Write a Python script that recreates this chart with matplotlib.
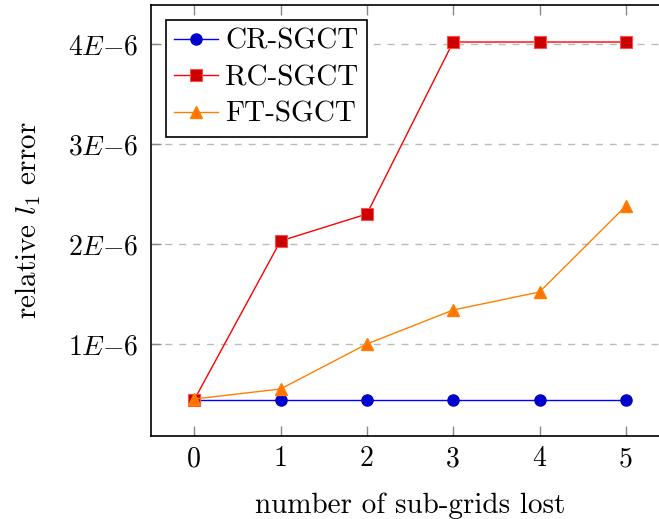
import numpy as np
import matplotlib
matplotlib.use('Agg')
import matplotlib.pyplot as plt

plt.rcParams['font.family'] = 'serif'
plt.rcParams['font.serif'] = ['cmr10']
plt.rcParams['mathtext.fontset'] = 'cm'
plt.rcParams['axes.formatter.use_mathtext'] = True

lost = [0, 1, 2, 3, 4, 5]
cr_sgct = [0.44e-6, 0.44e-6, 0.44e-6, 0.44e-6, 0.44e-6, 0.44e-6]
rc_sgct = [0.44e-6, 2.03e-6, 2.30e-6, 4.02e-6, 4.02e-6, 4.02e-6]
ft_sgct = [0.45e-6, 0.55e-6, 1.00e-6, 1.34e-6, 1.52e-6, 2.38e-6]
ytick_vals = [1e-6, 2e-6, 3e-6, 4e-6]
ytick_labels = ['$1E{-}6$', '$2E{-}6$', '$3E{-}6$', '$4E{-}6$']

fig = plt.figure(figsize=(6.59, 5.19), dpi=100)
# axes box runs past the right edge of the canvas
ax = fig.add_axes([151/659, 1-436/519, 518/659, 431/519])

ax.plot(lost, cr_sgct, color=(0, 0, 1), lw=1.0, marker='o', ms=8,
        mfc=(0, 0, 0.8), mec=(0, 0, 0.8), label='CR-SGCT', zorder=3)
ax.plot(lost, rc_sgct, color=(1, 0, 0), lw=1.0, marker='s', ms=8,
        mfc=(0.8, 0, 0), mec=(1, 0.3, 0.3), mew=0.8, label='RC-SGCT', zorder=3)
ax.plot(lost, ft_sgct, color=(1, 0.5, 0), lw=1.0, marker='^', ms=8,
        mfc=(1, 0.45, 0), mec=(1, 0.5, 0), label='FT-SGCT', zorder=3)

ax.set_xlim(-0.5, 5.5)
ax.set_ylim(0.08e-6, 4.39e-6)
ax.set_xticks(lost)
ax.set_xticklabels([str(v) for v in lost])
ax.set_yticks(ytick_vals)
ax.set_yticklabels(ytick_labels)
ax.yaxis.grid(True, linestyle=(0, (5, 5)), color='#bbbbbb', lw=1.0)
ax.set_axisbelow(True)

ax.tick_params(direction='in', length=7, color='#888888', width=1.0,
               labelsize=20, top=True, right=True)
ax.tick_params(axis='x', pad=7)
ax.tick_params(axis='y', pad=9)
for sp in ax.spines.values():
    sp.set_linewidth(1.2)

ax.set_xlabel('number of sub-grids lost', fontsize=21, labelpad=15)
ax.set_ylabel('relative $l_1$ error', fontsize=21, labelpad=18)

leg = ax.legend(loc='upper left', fontsize=21, fancybox=False, framealpha=1,
                edgecolor='black', borderpad=0.3, labelspacing=0.35,
                handlelength=1.5, handletextpad=0.25, borderaxespad=0.5)
leg.get_frame().set_linewidth(1.2)

fig.savefig('out.png', dpi=100)
